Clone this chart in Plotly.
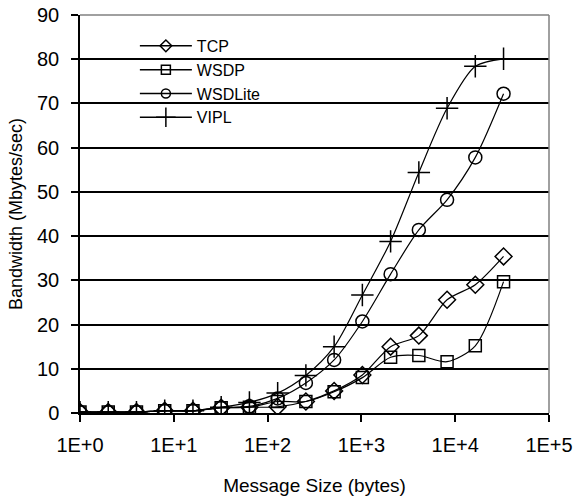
import plotly.graph_objects as go

sizes = [1, 2, 4, 8, 16, 32, 64, 128, 256, 512, 1024, 2048, 4096, 8192, 16384, 32768]
tcp = [0.2, 0.2, 0.2, 0.5, 0.5, 1.2, 1.3, 1.4, 2.6, 5.0, 8.6, 15.0, 17.5, 25.6, 29.0, 35.4]
wsdp = [0.2, 0.2, 0.2, 0.5, 0.5, 1.2, 1.3, 2.6, 2.6, 4.8, 8.0, 12.6, 13.0, 11.6, 15.2, 29.7]
wsdlite = [0.2, 0.2, 0.2, 0.5, 0.5, 1.2, 1.5, 3.3, 6.8, 12.0, 20.7, 31.4, 41.4, 48.2, 57.8, 72.2]
vipl = [0.2, 0.2, 0.2, 0.5, 0.5, 1.3, 2.4, 4.5, 8.5, 15.0, 26.7, 38.8, 54.4, 68.9, 78.4, 80.1]

x_tickvals = [1, 10, 100, 1000, 10000, 100000]
x_ticktext = ["1E+0", "1E+1", "1E+2", "1E+3", "1E+4", "1E+5"]
y_tickvals = [0, 10, 20, 30, 40, 50, 60, 70, 80, 90]

series = [
    ("TCP", tcp, "diamond-open", 13, 9),
    ("WSDP", wsdp, "square-open", 12, 9),
    ("WSDLite", wsdlite, "circle-open", 13, 9),
    ("VIPL", vipl, "cross-thin-open", 16, 14),
]

FONT = "Liberation Sans, Arial, sans-serif"

fig = go.Figure()
for name, ys, sym, sz, lsz in series:
    fig.add_trace(go.Scatter(
        x=sizes, y=ys, name=name, mode="lines+markers", showlegend=False,
        line=dict(color="black", width=1.2, shape="spline", smoothing=0.8),
        marker=dict(symbol=sym, size=sz, color="black",
                    line=dict(color="black", width=1.5)),
    ))
# legend entries (smaller legend symbols, as in the original)
for name, ys, sym, sz, lsz in series:
    fig.add_trace(go.Scatter(
        x=[None], y=[None], name=name, mode="lines+markers", showlegend=True,
        line=dict(color="black", width=1.5),
        marker=dict(symbol=sym, size=lsz, color="black",
                    line=dict(color="black", width=1.5)),
    ))

fig.update_layout(
    width=576, height=502,
    margin=dict(l=80, r=27, t=15, b=89, autoexpand=False),
    paper_bgcolor="white", plot_bgcolor="white",
    font=dict(family=FONT, size=18, color="black"),
    showlegend=True,
    legend=dict(x=0.117, y=0.965, xanchor="left", yanchor="top",
                bgcolor="rgba(255,255,255,0)", borderwidth=0,
                font=dict(family=FONT, size=16, color="black"),
                itemwidth=52, tracegroupgap=0),
    xaxis=dict(type="log", range=[0, 5], tickvals=x_tickvals, ticktext=x_ticktext,
               automargin=False,
               showgrid=False, zeroline=False, showline=True, linecolor="black",
               linewidth=1.5, ticks="outside", ticklen=7, tickwidth=1.5,
               tickcolor="black", tickfont=dict(size=20), ticklabelstandoff=6,
               title=dict(text="Message Size (bytes)", standoff=24,
                          font=dict(size=19))),
    yaxis=dict(range=[0, 90], tickvals=y_tickvals, showgrid=True,
               automargin=False,
               gridcolor="black", gridwidth=1.6, zeroline=False,
               showline=True, linecolor="black", linewidth=1.5,
               ticks="outside", ticklen=7, tickwidth=1.5, tickcolor="black",
               tickfont=dict(size=20), ticklabelstandoff=8,
               title=dict(text="Bandwidth (Mbytes/sec)", standoff=10,
                          font=dict(size=18))),
    shapes=[
        dict(type="rect", xref="paper", yref="paper", x0=0.068, x1=0.448,
             y0=0.716, y1=0.962, fillcolor="white", line=dict(width=0),
             layer="between"),
        dict(type="line", xref="paper", yref="paper", x0=0, x1=1, y0=1, y1=1,
             line=dict(color="#808080", width=1.5), layer="above"),
        dict(type="line", xref="paper", yref="paper", x0=1, x1=1, y0=0, y1=1,
             line=dict(color="#808080", width=1.5), layer="above"),
    ],
)

fig.write_html("out.html")
